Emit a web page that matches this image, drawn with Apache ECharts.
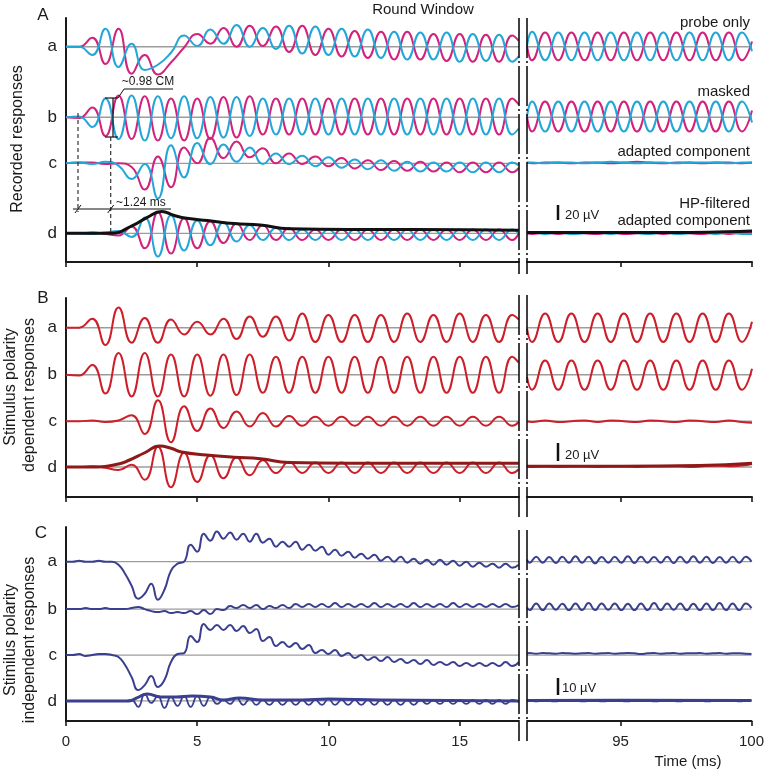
<!DOCTYPE html>
<html><head><meta charset="utf-8">
<script src="https://cdn.jsdelivr.net/npm/echarts@6/dist/echarts.min.js"></script>
<style>html,body{margin:0;padding:0;background:#fff}#c{width:767px;height:771px}</style>
</head><body><div id="c"></div>
<script>
// ---------- time grids (ms) ----------
const tL1 = [0,0.5,1,1.5,2,2.5,3,3.5,4,4.5,5,5.5,6,6.5,7,7.5,8,8.5,9,9.5,10,10.5,11,11.5,12,12.5,13,13.5,14,14.5,15,15.5,16,16.5,17,17.25];
const tR1 = [91.43,91.62,92.12,92.62,93.12,93.62,94.12,94.62,95.12,95.62,96.12,96.62,97.12,97.62,98.12,98.62,99.12,99.62,100];
const tL2 = [0,0.25,0.5,0.75,1,1.25,1.5,1.75,2,2.25,2.5,2.75,3,3.25,3.5,3.75,4,4.25,4.5,4.75,5,5.25,5.5,5.75,6,6.25,6.5,6.75,7,7.25,7.5,7.75,8,8.25,8.5,8.75,9,9.25,9.5,9.75,10,10.25,10.5,10.75,11,11.25,11.5,11.75,12,12.25,12.5,12.75,13,13.25,13.5,13.75,14,14.25,14.5,14.75,15,15.25,15.5,15.75,16,16.25,16.5,16.75,17,17.25];
const tR2 = [91.43,91.53,91.78,92.03,92.28,92.53,92.78,93.03,93.28,93.53,93.78,94.03,94.28,94.53,94.78,95.03,95.28,95.53,95.78,96.03,96.28,96.53,96.78,97.03,97.28,97.53,97.78,98.03,98.28,98.53,98.78,99.03,99.28,99.53,99.78,100];

// ---------- Panel A: recorded responses (µV) ----------
const aProbeMagL  = [0,0,12,-23,24,-36,-11,-37,-21,-1,17,4,25,0,28,1,27,-7,28,-11,24,-13,21,-15,20,-17,20,-17,17,-19,17,-20,16,-20,15,8];
const aProbeCyanL = [0,0,-11,24,-27,4,-31,-24,-8,15,1,23,4,29,0,25,-3,28,-9,27,-11,24,-13,23,-15,20,-17,19,-17,19,-20,17,-19,16,-20,-13];
const aProbeMagR  = [1,-18,19,-18,19,-18,19,-18,19,-18,19,-18,19,-18,19,-18,19,-18,7];
const aProbeCyanR = [1,20,-18,19,-18,19,-18,19,-18,19,-18,19,-18,19,-18,19,-18,19,-6];
const aMaskMagL   = [0,-1,13,-25,29,-29,28,-31,25,-31,25,-29,27,-27,28,-23,25,-23,25,-23,25,-23,25,-23,25,-23,25,-23,25,-23,25,-23,25,-23,25,17];
const aMaskCyanL  = [0,1,-13,25,-29,29,-31,28,-28,28,-28,27,-27,27,-25,25,-23,25,-23,25,-23,25,-23,25,-23,25,-23,25,-23,25,-23,25,-23,25,-23,-15];
const aMaskMagR   = [1,-19,21,-19,21,-19,21,-19,21,-19,21,-19,21,-19,21,-19,21,-19,9];
const aMaskCyanR  = [1,21,-19,21,-19,21,-19,21,-19,21,-19,21,-19,21,-19,21,-19,21,-7];
const aAdaptMagL  = [0,1,1,-1,0,-5,-35,9,-32,21,0,34,7,29,8,20,0,13,-1,9,-4,7,-7,4,-9,3,-10,2,-11,1,-12,1,-12,1,-12,-6];
const aAdaptCyanL = [0,1,-1,2,-3,-21,-1,-47,24,-19,27,-1,25,2,21,-1,13,-1,10,-4,8,-6,5,-8,4,-10,2,-11,1,-11,1,-12,1,-12,1,-3];
const aAdaptMagR  = [1,0,1,1,0,1,1,0,1,2,1,0,1,1,0,1,1,0,1];
const aAdaptCyanR = [1,1,0,1,1,0,1,2,1,0,1,1,0,1,1,1,0,1,1];
const aHPMagL     = [0,0,1,-1,-3,9,-20,28,-27,20,-20,16,-13,13,-9,11,-9,7,-9,5,-9,5,-9,5,-9,5,-9,5,-9,5,-9,5,-9,5,-9,0];
const aHPCyanL    = [0,0,-1,1,3,-5,21,-31,24,-23,17,-16,15,-11,11,-9,7,-9,5,-9,5,-9,5,-9,5,-9,5,-9,5,-9,5,-9,5,-9,5,0];
const aHPMagR     = [0,-1,1,-1,1,0,-1,1,-1,0,1,-1,1,0,-1,1,-1,1,0];
const aHPCyanR    = [0,1,-1,1,-1,0,1,-1,1,0,-1,1,-1,0,1,-1,1,-1,-1];
const aEnvTL = [0,1.7,2.57,3.08,3.65,4.1,4.6,5.4,6.4,7.4,8.5,10.8,13.3,17.25];
const aEnvL  = [0,0,11,21,29,24,20,17,13,11,6,5,5,4];
const aEnvTR = [91.43,94,97,99,100];
const aEnvR  = [1,1,1,2,3];

// ---------- Panel B: stimulus polarity dependent (µV) ----------
const bProbeL = [0,0,12,-23,27,-20,13,-20,11,-9,8,-9,12,-15,15,-12,15,-17,19,-19,17,-19,17,-19,17,-19,19,-19,17,-19,19,-19,17,-19,17,11];
const bProbeR = [-1,-19,19,-19,19,-19,19,-19,19,-19,19,-19,19,-19,19,-19,19,-19,8];
const bMaskL  = [0,-1,13,-25,29,-29,29,-29,27,-29,27,-28,27,-27,27,-24,24,-24,24,-24,24,-24,24,-24,24,-24,24,-24,24,-24,24,-24,24,-24,24,16];
const bMaskR  = [-3,-20,19,-20,19,-20,19,-20,19,-20,19,-20,19,-20,19,-20,19,-20,8];
const bAdaptL = [0,0,1,-1,1,8,-17,28,-28,20,-13,17,-9,13,-7,11,-7,7,-6,6,-6,6,-6,6,-6,6,-6,6,-6,6,-6,6,-6,6,-6,-1];
const bAdaptR = [0,-1,1,-1,0,1,-1,1,0,-1,1,0,-1,1,0,-1,1,-1,-2];
const bHPL    = [0,0,1,-1,-4,3,-17,27,-27,19,-20,16,-15,13,-11,9,-8,7,-8,6,-8,6,-8,6,-8,6,-8,6,-8,6,-8,6,-8,6,-8,-3];
const bHPR    = [1,0,1,0,1,1,0,1,1,0,1,1,1,0,1,2,1,2,4];
const bEnvTL = [0,1.2,2.0,2.4,3.0,3.57,4.0,4.4,5.35,6.4,7.4,8.5,10.8,13.3,17.25];
const bEnvL  = [0,0,4,9,19,28,25,20,16,13,11,6,5,5,5];
const bEnvTR = [91.43,95,98,100];
const bEnvR  = [1,1,2,5];

// ---------- Panel C: stimulus polarity independent (µV) ----------
const cProbeL = [0,0,0.6,0,0,0.6,0,0,-1.8,-7.2,-14.4,-22.2,-19.2,-13.2,-22.8,-16.8,-5.4,-1.2,0,10.2,6,16.8,12.6,18,13.8,17.4,13.2,16.8,12,16.8,11.4,13.8,9,12,9,12,7.2,10.2,6.6,9,4.2,7.2,3.6,6,2.4,4.8,1.8,4.2,0.6,3,0,3,-0.6,1.8,-1.2,1.2,-1.8,1.2,-1.8,0.6,-2.4,0,-3,-0.6,-3,-1.2,-3.6,-1.2,-3.6,-1.8];
const cProbeR = [1.2,-0.6,3,-0.6,2.8,-0.8,3,-0.6,3.2,-0.6,3,-1,2.8,-0.6,3,-0.6,3.2,-0.8,3,-0.6,2.8,-0.6,3,-0.8,3,-0.6,3.2,-0.6,3,-0.8,2.8,-0.6,3,-0.6,3,0];
const cMaskL  = [0,0,0,0.6,0,0,0.6,0,0,0,0.6,1.2,0,-1.2,-1.8,-1.2,-2.4,-1.8,-2.4,-1.2,-3,-0.6,-3,0,-0.6,1.8,0.6,2.4,0.6,2.4,0,1.8,0.6,2.4,0.6,3,1.2,3,1.2,3,1.2,3.6,1.2,3,1.2,3,1.2,3.6,1.2,3,1.2,3,1.2,3.6,1.2,3,1.2,3,1.2,3.6,1.2,3,1.2,3,1.2,3,1.2,3,1.2,2.4];
const cMaskR  = [1,-0.6,3.4,-0.6,3.4,-0.4,3.2,-0.6,3.4,-0.6,3.6,-0.6,3.4,-0.4,3.4,-0.6,3.2,-0.6,3.4,-0.6,3.6,-0.6,3.4,-0.4,3.4,-0.6,3.2,-0.6,3.4,-0.6,3.6,-0.6,3.4,-0.6,3.4,0.6];
const cAdaptL = [0,0,0.6,-0.6,0,0.6,0.6,0,-1.2,-6,-13.2,-21,-18,-12.6,-19.2,-15,-4.2,0.6,1.2,11.4,7.8,18.6,15,18,15,18,14.4,17.4,13.2,15.6,8.4,10.8,5.4,7.8,4.8,7.2,3.6,6,1.2,3,0.6,3,-0.6,1.2,-1.8,0,-3,-1.2,-3.6,-1.2,-4.2,-2.4,-4.8,-3,-5.4,-3,-6,-4.2,-6,-4.2,-6.6,-4.8,-6.6,-4.8,-6.6,-4.8,-6.6,-4.2,-6.6,-4.2];
const cAdaptR = [1,1.2,0.8,1.2,1,0.8,1.2,1,0.8,1,1.2,0.8,1,1.2,0.8,1,1.2,1,0.6,1,1.2,0.8,1,1.2,0.8,1,1,1.2,0.8,1,1.2,0.8,1,1,0.8,0.6];
const cHPL    = [0,0,0,0,0,0,0,0,0,0,0.6,-3.6,4.2,-1.2,3,-4.2,2.4,-3,3,-3.6,3,-3,2.4,-1.8,0.6,-1.8,1.8,-2.4,1.2,-2.4,0.6,-2.4,0.6,-2.4,0.6,-2.4,0.6,-2.4,0.6,-2.4,1.2,-2.4,0.6,-2.4,0.6,-2.4,0.6,-2.4,0.6,-2.4,0.6,-2.4,0.6,-2.4,0.6,-1.8,0.6,-1.8,0.6,-1.8,0.6,-1.8,0.6,-1.8,0.6,-1.8,0.6,-1.8,0.6,-0.6];
const cHPR    = [0,0.3,-0.3,0.3,0,-0.3,0.3,0,0.3,-0.3,0,0.3,-0.3,0,0.3,0,-0.3,0.3,0,0.3,-0.3,0,0.3,0,-0.3,0.3,0,0.3,-0.3,0,0.3,0,0.3,-0.3,0,0.3];
const cEnvTL = [0,2.4,2.7,3.1,3.6,4.2,4.8,5.5,6.0,6.6,7.5,9,10,12,17.25];
const cEnvL  = [0,0,1.8,4.2,2.4,2.4,3,2.4,0.6,1.8,0.6,0.6,1.2,0.6,0];
const cEnvTR = [91.43,95,100];
const cEnvR  = [0.3,0.5,0.3];

// ---------- labels ----------
const traceLetters = ['a','b','c','d'];
const xTicksLeft = [0,5,10,15];
const xTicksRight = [95,100];

// ---------- layout (px) and styling ----------
const FONT = 'Liberation Sans, Arial, Helvetica, sans-serif';
const COL = {mag:'#d3227c', cyan:'#23a6d9', red:'#cc1f2a', redDark:'#8f1818', navy:'#3a3f8f', black:'#111', gray:'#9c9c9c', axis:'#1a1a1a'};
const PANELS = [
  {top:18,  h:244, pxPerUV:0.75, offs:[287,193,131.6,38.3]},
  {top:298, h:199, pxPerUV:0.75, offs:[225.7,163,101,40]},
  {top:527, h:194, pxPerUV:1.67, offs:[95.4,67,39.5,12]}
];
const XL = {left:66, width:453, min:0, max:17.26};
const XR = {left:527, width:225, min:91.43, max:100};

const grids=[], xAxes=[], yAxes=[], series=[];
const errs=[];
PANELS.forEach((p,pi)=>{
  [XL,XR].forEach((xs,si)=>{
    const gi = pi*2+si;
    grids.push({left:xs.left, top:p.top, width:xs.width, height:p.h});
    const isC = pi===2;
    xAxes.push({gridIndex:gi, type:'value', min:xs.min, max:xs.max,
      axisLine:{show:true, onZero:false, lineStyle:{color:COL.axis, width:2}},
      axisTick:{show:true, length:5, customValues: si===0?xTicksLeft:xTicksRight, lineStyle:{color:COL.axis, width:1.6}},
      axisLabel:{show:isC, customValues: si===0?xTicksLeft:xTicksRight, fontSize:15, color:'#222', margin:13, fontFamily:FONT},
      splitLine:{show:false}});
    const ymax = p.h/p.pxPerUV;
    yAxes.push({gridIndex:gi, type:'value', min:0, max:ymax, show: si===0,
      axisLine:{show:si===0, lineStyle:{color:COL.axis, width:2}},
      axisTick:{show:false}, splitLine:{show:false},
      axisLabel:{show:si===0, customValues:p.offs, margin:9, fontSize:17, color:'#222', fontFamily:FONT,
        formatter:(v)=>{let k=0,b=1e9;p.offs.forEach((o,i)=>{if(Math.abs(o-v)<b){b=Math.abs(o-v);k=i;}});return traceLetters[k];}}});
    // gray baselines
    p.offs.forEach(o=>{
      series.push({type:'line', xAxisIndex:gi, yAxisIndex:gi, data:[[xs.min,o],[xs.max,o]], symbol:'none', silent:true,
        lineStyle:{color:COL.gray, width:1.3}, z:1, animation:false});
    });
  });
});

function wave(gi, times, vals, off, color, width, z){
  if(times.length!==vals.length) errs.push('len mismatch g'+gi+' '+times.length+'/'+vals.length);
  series.push({type:'line', xAxisIndex:gi, yAxisIndex:gi, smooth:0.5, symbol:'none', silent:true, animation:false,
    data: times.map((t,i)=>[t, off+vals[i]]), lineStyle:{color, width}, z});
}
const oA=PANELS[0].offs, oB=PANELS[1].offs, oC=PANELS[2].offs;
// Panel A
wave(0,tL1,aProbeMagL,oA[0],COL.mag,2,3); wave(0,tL1,aProbeCyanL,oA[0],COL.cyan,2,4);
wave(1,tR1,aProbeMagR,oA[0],COL.mag,2,3); wave(1,tR1,aProbeCyanR,oA[0],COL.cyan,2,4);
wave(0,tL1,aMaskMagL,oA[1],COL.mag,2,3); wave(0,tL1,aMaskCyanL,oA[1],COL.cyan,2,4);
wave(1,tR1,aMaskMagR,oA[1],COL.mag,2,3); wave(1,tR1,aMaskCyanR,oA[1],COL.cyan,2,4);
wave(0,tL1,aAdaptMagL,oA[2],COL.mag,2,3); wave(0,tL1,aAdaptCyanL,oA[2],COL.cyan,2,4);
wave(1,tR1,aAdaptMagR,oA[2],COL.mag,2,3); wave(1,tR1,aAdaptCyanR,oA[2],COL.cyan,2,4);
wave(0,tL1,aHPMagL,oA[3],COL.mag,2,3); wave(0,tL1,aHPCyanL,oA[3],COL.cyan,2,4);
wave(1,tR1,aHPMagR,oA[3],COL.mag,2,3); wave(1,tR1,aHPCyanR,oA[3],COL.cyan,2,4);
wave(0,aEnvTL,aEnvL,oA[3],COL.black,3,5); wave(1,aEnvTR,aEnvR,oA[3],COL.black,3,5);
// Panel B
wave(2,tL1,bProbeL,oB[0],COL.red,2,3); wave(3,tR1,bProbeR,oB[0],COL.red,2,3);
wave(2,tL1,bMaskL,oB[1],COL.red,2,3);  wave(3,tR1,bMaskR,oB[1],COL.red,2,3);
wave(2,tL1,bAdaptL,oB[2],COL.red,2,3); wave(3,tR1,bAdaptR,oB[2],COL.red,2,3);
wave(2,tL1,bHPL,oB[3],COL.red,2,3);    wave(3,tR1,bHPR,oB[3],COL.red,2,3);
wave(2,bEnvTL,bEnvL,oB[3],COL.redDark,3,5); wave(3,bEnvTR,bEnvR,oB[3],COL.redDark,3,5);
// Panel C
wave(4,tL2,cProbeL,oC[0],COL.navy,2,3); wave(5,tR2,cProbeR,oC[0],COL.navy,2,3);
wave(4,tL2,cMaskL,oC[1],COL.navy,2,3);  wave(5,tR2,cMaskR,oC[1],COL.navy,2,3);
wave(4,tL2,cAdaptL,oC[2],COL.navy,2,3); wave(5,tR2,cAdaptR,oC[2],COL.navy,2,3);
wave(4,tL2,cHPL,oC[3],COL.navy,1.8,3);  wave(5,tR2,cHPR,oC[3],COL.navy,1.8,3);
wave(4,cEnvTL,cEnvL,oC[3],COL.navy,3,5); wave(5,cEnvTR,cEnvR,oC[3],COL.navy,3,5);

// ---------- decorations ----------
const g=[];
function txt(x,y,text,opt){g.push({type:'text',x,y,rotation:(opt&&opt.rot)||0,silent:true,z:20,
  style:{text,fill:'#1a1a1a',font:((opt&&opt.size)||15)+'px '+FONT,align:(opt&&opt.align)||'left',verticalAlign:'middle'}});}
function line(x1,y1,x2,y2,w,dash,color){g.push({type:'line',silent:true,z:20,shape:{x1,y1,x2,y2},
  style:{stroke:color||'#111',lineWidth:w||1.3,lineDash:dash||null}});}
txt(43,15,'A',{size:17,align:'center'}); txt(43,298,'B',{size:17,align:'center'}); txt(41,533,'C',{size:17,align:'center'});
txt(18,139,'Recorded responses',{size:16,align:'center',rot:Math.PI/2});
txt(11,387,'Stimulus polarity',{size:16,align:'center',rot:Math.PI/2});
txt(30,395,'dependent responses',{size:16,align:'center',rot:Math.PI/2});
txt(11,640,'Stimilus polarity',{size:16,align:'center',rot:Math.PI/2});
txt(30,640,'independent responses',{size:16,align:'center',rot:Math.PI/2});
txt(423,10,'Round Window',{size:15,align:'center'});
txt(750,23,'probe only',{size:15,align:'right'});
txt(750,92,'masked',{size:15,align:'right'});
txt(750,152,'adapted component',{size:15,align:'right'});
txt(750,204,'HP-filtered',{size:15,align:'right'});
txt(750,221,'adapted component',{size:15,align:'right'});
txt(688,762,'Time (ms)',{size:15,align:'center'});
// scale bars
line(558,205,558,220,2.5); txt(565,215,'20 µV',{size:13});
line(558,443,558,461,2.5); txt(565,455,'20 µV',{size:13});
line(558,678,558,695,2.5); txt(562,688,'10 µV',{size:13});
// axis break lines
const dd=[40,3,2,3];
[[18,274],[295,517],[530,741]].forEach(([y1,y2])=>{line(519,y1,519,y2,1.6,dd); line(527,y1,527,y2,1.6,dd);});
// annotation in A
line(105,98,118,98,1.2); line(113,98,113,137,1.2); line(105,137,118,137,1.2);
line(118,98,124,89,1); line(124,89,173,89,1);
txt(148,82,'~0.98 CM',{size:12,align:'center'});
line(78,113,78,212,1.2,[4,3],'#333'); line(110.7,137,110.7,233,1.2,[4,3],'#333');
line(73,209,171,209,1.2);
line(75,213,81,205,1); line(107.7,213,113.7,205,1);
txt(116,203,'~1.24 ms',{size:12});
if(errs.length) txt(200,380,errs.join(' | '),{size:12});

const chart = echarts.init(document.getElementById('c'),null,{renderer:'canvas'});
chart.setOption({animation:false, backgroundColor:'#fff', grid:grids, xAxis:xAxes, yAxis:yAxes, series, graphic:g});
</script></body></html>
